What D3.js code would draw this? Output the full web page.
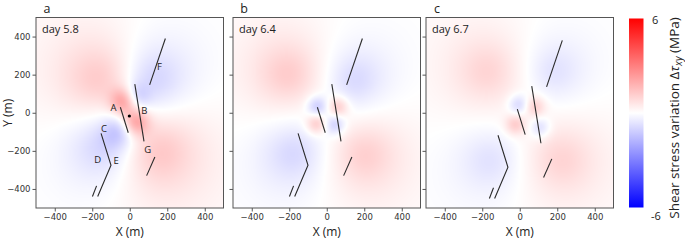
<!DOCTYPE html>
<html>
<head>
<meta charset="utf-8">
<script src="https://cdn.jsdelivr.net/npm/d3@7"></script>
<style>
  body { margin: 0; background: #fff; }
  text { font-family: "Open Sans", sans-serif; fill: #222; }
  .tick text { font-family: "DejaVu Sans", sans-serif; font-size: 8.5px; fill: #333; }
</style>
</head>
<body>
<div id="chart"></div>
<script>
var W = 685, H = 240;

var panelNames = ["a", "b", "c"];
var dayLabels = ["day 5.8", "day 6.4", "day 6.7"];
var tickValues = [-400, -200, 0, 200, 400];

var faults = [
  [[-50, 29], [-8, -105]],                      // A
  [[27, 150], [76, -150]],                      // B
  [[-153, -108], [-100, -276], [-171, -440]],   // C-D-E
  [[-199, -440], [-177, -384]],
  [[90, -330], [134, -232]],                    // G
  [[106, 146], [190, 390]]                      // F
];
// panel c is drawn shifted
var faultShiftX = [0, 0, 37];
var faultShiftY = [0, 0, -10];

var faultLetters = ["A", "B", "C", "D", "E", "F", "G"];
var letterX = [-87, 78, -137, -171, -72, 158, 96];
var letterY = [29, 10, -85, -248, -253, 242, -195];
var injection = [-2, -17];

// stress lobes: x, y, peak (MPa), width (m), kind (0 broad, 1 local)
var lobesA = [
  [-150, 170, 1.9, 220, 0], [150, -200, 1.9, 220, 0],
  [120, 170, -1.8, 200, 0], [-130, -170, -1.8, 200, 0],
  [-30, 60, 2.2, 50, 1], [35, -50, 2.0, 50, 1],
  [30, 80, -1.2, 50, 1], [-60, -100, -1.0, 60, 1]
];
var lobesB = [
  [-200, 200, 1.5, 190, 0], [200, -220, 1.4, 190, 0],
  [150, 170, -1.3, 170, 0], [-170, -210, -1.3, 180, 0],
  [-50, 32, -1.2, 38, 1], [62, 30, 1.2, 38, 1],
  [-55, -60, 1.2, 38, 1], [45, -64, -1.1, 38, 1]
];
var lobesC = [
  [-166, 216, 1.2, 190, 0], [220, -247, 1.2, 190, 0],
  [184, 216, -1.0, 170, 0], [-148, -247, -1.0, 180, 0],
  [-5, 41, -1.0, 38, 1], [84, 32, 1.0, 38, 1],
  [-23, -64, 1.1, 38, 1], [111, -81, -0.9, 38, 1]
];
var lobes = [lobesA, lobesB, lobesC];

var cbTicks = [6, -6];

var plotLeft = [36, 233, 426], pw = 187.5, plotTop = 17.5, ph = 190.5;

var color = d3.scaleLinear().domain([-6, 0, 6]).range(["#0000ff", "#ffffff", "#ff0000"]).clamp(true);

var svg = d3.select("#chart").append("svg")
    .attr("width", W)
    .attr("height", H);

function fieldAt(list, x, y) {
  var v = 0;
  list.forEach(function(l) {
    var dx = x - l[0], dy = y - l[1];
    var q = (dx * dx + dy * dy) / (l[3] * l[3]);
    v += l[4] ? l[2] * Math.exp(-q / 2) : l[2] / (1 + q);
  });
  return v;
}

panelNames.forEach(function(name, p) {
  var x = d3.scaleLinear().domain([-500, 500]).range([plotLeft[p], plotLeft[p] + pw]);
  var y = d3.scaleLinear().domain([-500, 500]).range([plotTop + ph, plotTop]);

  // raster the field on a canvas, then hand it to svg
  var cw = Math.round(pw), ch = Math.round(ph);
  var canvas = document.createElement("canvas");
  canvas.width = cw; canvas.height = ch;
  var ctx = canvas.getContext("2d");
  var img = ctx.createImageData(cw, ch);
  for (var j = 0; j < ch; j++) {
    for (var i = 0; i < cw; i++) {
      var v = fieldAt(lobes[p], x.invert(plotLeft[p] + i + 0.5), y.invert(plotTop + j + 0.5));
      var c = d3.rgb(color(v));
      var k = (j * cw + i) * 4;
      img.data[k] = c.r; img.data[k + 1] = c.g; img.data[k + 2] = c.b; img.data[k + 3] = 255;
    }
  }
  ctx.putImageData(img, 0, 0);

  svg.append("image")
    .attr("x", plotLeft[p]).attr("y", plotTop)
    .attr("width", pw).attr("height", ph)
    .attr("preserveAspectRatio", "none")
    .attr("href", canvas.toDataURL());

  var line = d3.line()
    .x(function(d) { return x(d[0] + faultShiftX[p]); })
    .y(function(d) { return y(d[1] + faultShiftY[p]); });

  svg.append("g").selectAll("path").data(faults).enter()
    .append("path")
      .attr("d", line)
      .attr("fill", "none")
      .attr("stroke", "#2a2a2a")
      .attr("stroke-width", 1.1);

  if (p == 0) {
    svg.append("circle")
      .attr("cx", x(injection[0])).attr("cy", y(injection[1]))
      .attr("r", 1.6).attr("fill", "#000");
    svg.append("g").selectAll("text").data(faultLetters).enter()
      .append("text")
        .attr("x", function(d, i) { return x(letterX[i]); })
        .attr("y", function(d, i) { return y(letterY[i]); })
        .attr("dy", "0.35em")
        .attr("text-anchor", "middle")
        .style("font-size", "9.5px")
        .text(function(d) { return d; });
  }

  // frame
  svg.append("rect")
    .attr("x", plotLeft[p]).attr("y", plotTop)
    .attr("width", pw).attr("height", ph)
    .attr("fill", "none").attr("stroke", "#555").attr("stroke-width", 1);

  var xAxis = d3.axisBottom(x).tickValues(tickValues).tickSize(3.5).tickPadding(2)
    .tickFormat(function(d) { return d3.format("d")(d).replace("-", "\u2212"); });
  var gx = svg.append("g").attr("transform", "translate(0," + (plotTop + ph) + ")").call(xAxis);
  gx.select(".domain").remove();
  gx.selectAll(".tick line").attr("stroke", "#555");

  var yAxis = d3.axisLeft(y).tickValues(tickValues).tickSize(3.5).tickPadding(2)
    .tickFormat(function(d) { return p == 0 ? d3.format("d")(d).replace("-", "\u2212") : ""; });
  var gy = svg.append("g").attr("transform", "translate(" + plotLeft[p] + ",0)").call(yAxis);
  gy.select(".domain").remove();
  gy.selectAll(".tick line").attr("stroke", "#555");

  svg.append("text")
    .attr("x", plotLeft[p] + 6).attr("y", plotTop + 15)
    .style("font-size", "11px")
    .text(dayLabels[p]);

  svg.append("text")
    .attr("x", plotLeft[p] + 11).attr("y", 12.5)
    .attr("text-anchor", "middle")
    .style("font-size", "12.5px")
    .text(name);

  svg.append("text")
    .attr("x", plotLeft[p] + pw / 2).attr("y", 236)
    .attr("text-anchor", "middle")
    .style("font-size", "12px")
    .text("X (m)");
});

svg.append("text")
  .attr("transform", "translate(12," + (plotTop + ph / 2) + ") rotate(-90)")
  .attr("text-anchor", "middle")
  .style("font-size", "12px")
  .text("Y (m)");

// colorbar
var cbX = 629, cbW = 14.5;
var cy = d3.scaleLinear().domain([-6, 6]).range([207.5, 18.5]);
var defs = svg.append("defs");
var grad = defs.append("linearGradient").attr("id", "cbgrad")
  .attr("x1", 0).attr("y1", 1).attr("x2", 0).attr("y2", 0);
grad.selectAll("stop").data([-6, 0, 6]).enter().append("stop")
  .attr("offset", function(d) { return (d + 6) / 12; })
  .attr("stop-color", function(d) { return color(d); });
svg.append("rect")
  .attr("x", cbX).attr("y", cy(6))
  .attr("width", cbW).attr("height", cy(-6) - cy(6))
  .attr("fill", "url(#cbgrad)");

svg.append("g").selectAll("text").data(cbTicks).enter()
  .append("text")
    .attr("x", function(d) { return d > 0 ? 652 : 651; })
    .attr("y", function(d) { return d > 0 ? cy(d) + 5 : cy(d) + 12; })
    .style("font-size", "11px")
    .text(function(d) { return d; });

var cbLabel = svg.append("text")
  .attr("transform", "translate(679," + 118 + ") rotate(-90)")
  .attr("text-anchor", "middle")
  .style("font-size", "13.5px");
cbLabel.append("tspan").text("Shear stress variation \u0394");
cbLabel.append("tspan").style("font-style", "italic").text("\u03c4");
cbLabel.append("tspan").style("font-style", "italic").style("font-size", "10px").attr("dy", 3).text("xy");
cbLabel.append("tspan").attr("dy", -3).text(" (MPa)");
</script>
</body>
</html>
